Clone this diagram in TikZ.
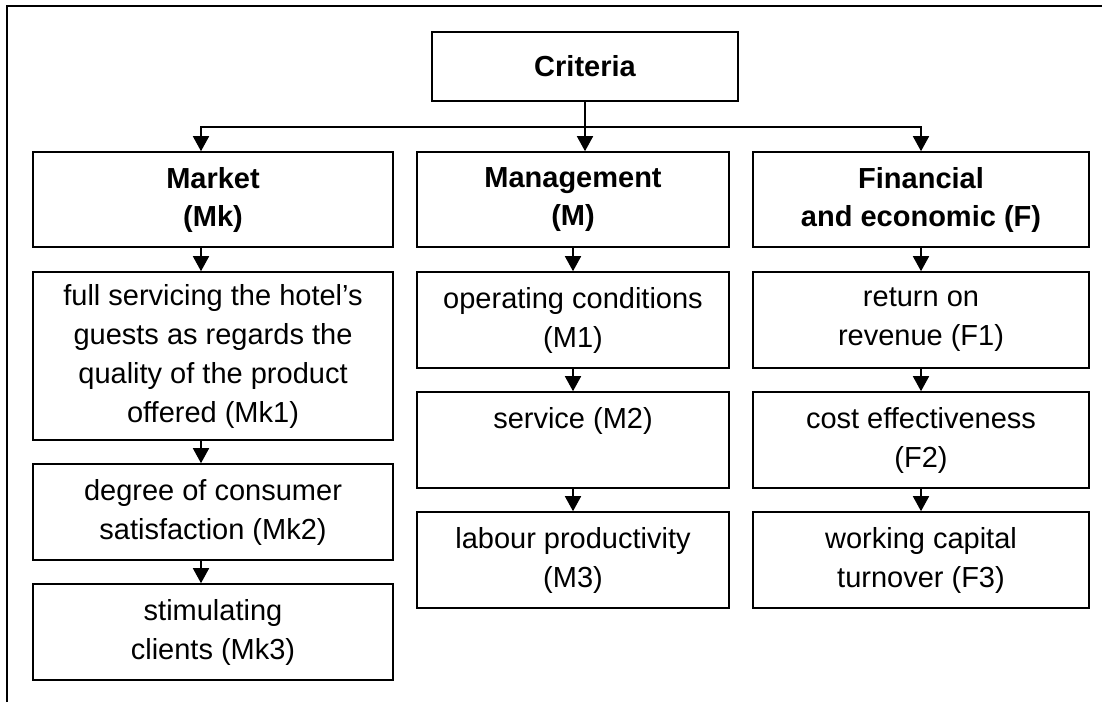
\documentclass[tikz,border=0pt]{standalone}
\usepackage{fontspec}
\setmainfont{Liberation Sans}
\usetikzlibrary{arrows.meta}

\begin{document}
\begin{tikzpicture}
	 [x=1pt,y=-1pt,every node/.style={draw,line width=1.6pt,inner sep=0pt,align=center},
	  head/.style={font=\bfseries\fontsize{29}{38}\selectfont,minimum height=95},
	  item/.style={font=\fontsize{29}{39}\selectfont,minimum height=96},
	  link/.style={line width=1.6pt,-{Triangle[length=15pt,width=16pt]}}]
	\useasboundingbox (0,0) rectangle (1102,702);
	\draw[line width=2pt] (7,702) -- (7,6) -- (1102,6);

	\node (crit)[head,minimum width=306,minimum height=69] at (585,66.5) {Criteria};

	  \node (mk)[head,minimum width=360] at (213,199.5) {Market\\(Mk)};
	  \node (m)[head,minimum width=312] at (573,199.5) {Management\\(M)};
	  \node (f)[head,minimum width=336] at (921,199.5) {Financial\\and economic (F)};

	  \node (mk1)[item,minimum width=360,minimum height=168] at (213,356) {full servicing the hotel's\\guests as regards the\\quality of the product\\offered (Mk1)};
	  \node (mk2)[item,minimum width=360] at (213,512) {degree of consumer\\satisfaction (Mk2)};
	  \node (mk3)[item,minimum width=360] at (213,632) {stimulating\\clients (Mk3)};

	  \node (m1)[item,minimum width=312] at (573,320) {operating conditions\\(M1)};
	  \node (m2)[item,minimum width=312] at (573,440) {service (M2)\\\phantom{(M2)}};
	  \node (m3)[item,minimum width=312] at (573,560) {labour productivity\\(M3)};

	  \node (f1)[item,minimum width=336] at (921,320) {return on\\revenue (F1)};
	  \node (f2)[item,minimum width=336] at (921,440) {cost effectiveness\\(F2)};
	  \node (f3)[item,minimum width=336] at (921,560) {working capital\\turnover (F3)};

	\coordinate (jl) at (201,127);
	\coordinate (jr) at (921,127);

	\draw[link,{Triangle[length=15pt,width=16pt]}-{Triangle[length=15pt,width=16pt]}] (mk.north -| jl) -- (jl) -- (jr) -- (f.north);
	\draw[link] (crit.south) -- (m.north -| crit.south);

	\foreach \from/\to in {mk/mk1,mk1/mk2,mk2/mk3}
    \draw[link] (\from.south -| jl) -- (\to.north -| jl);
	\foreach \from/\to in {m/m1,m1/m2,m2/m3,f/f1,f1/f2,f2/f3}
    \draw[link] (\from) -- (\to);

\end{tikzpicture}
\end{document}
